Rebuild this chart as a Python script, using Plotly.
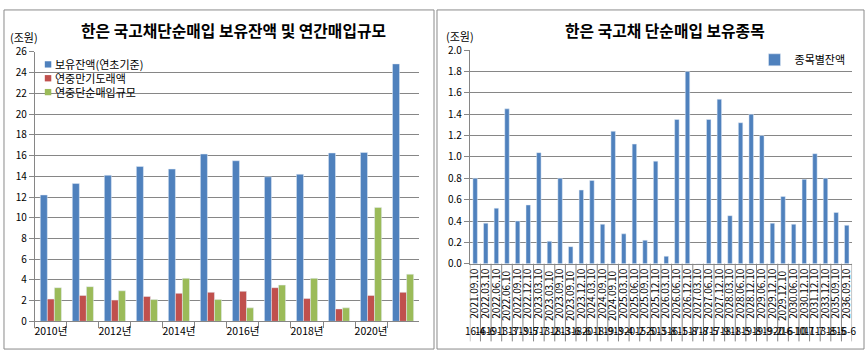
import plotly.graph_objects as go

# ---------------- data ----------------
years = ["2010년", "2011년", "2012년", "2013년", "2014년", "2015년",
         "2016년", "2017년", "2018년", "2019년", "2020년", "2021년"]
holdings = [12.2, 13.3, 14.1, 14.95, 14.7, 16.15, 15.5, 13.95, 14.2, 16.25, 16.3, 24.85]
maturing = [2.15, 2.5, 2.05, 2.4, 2.7, 2.8, 2.9, 3.25, 2.2, 1.2, 2.5, 2.8]
purchases = [3.25, 3.35, 2.95, 2.1, 4.15, 2.1, 1.3, 3.5, 4.15, 1.3, 11.0, 4.55]
year_ticktext = [y if i % 2 == 0 else "" for i, y in enumerate(years)]
left_series_names = ["보유잔액(연초기준)", "연중만기도래액", "연중단순매입규모"]

maturity_dates = ["2021.09.10", "2022.03.10", "2022.06.10", "2022.06.10 ", "2022.09.10",
                  "2022.12.10", "2023.03.10", "2023.03.10 ", "2023.09.10", "2023.09.10 ",
                  "2023.12.10", "2024.03.10", "2024.09.10", "2024.09.10 ", "2025.03.10",
                  "2025.06.10", "2025.09.10", "2025.12.10", "2026.03.10", "2026.06.10",
                  "2026.12.10", "2027.03.10", "2027.06.10", "2027.12.10", "2028.03.10",
                  "2028.06.10", "2028.12.10", "2029.06.10", "2029.12.10", "2029.12.10 ",
                  "2030.06.10", "2030.12.10", "2031.12.10", "2033.12.10", "2035.09.10",
                  "2036.09.10"]
issue_codes = ["16-4", "16-6", "19-1", "13-3", "17-3", "19-5", "17-7", "13-2", "18-3", "13-6",
               "18-6", "20-1", "18-9", "19-3", "19-4", "20-2", "15-5", "20-3", "15-8", "16-1",
               "15-8", "17-8", "17-5", "17-9", "18-1", "18-5", "19-8", "19-9", "19-2", "20-6",
               "16-10", "10-7", "11-7", "13-8", "15-5", "16-6"]
issue_balance = [0.80, 0.38, 0.52, 1.45, 0.40, 0.55, 1.04, 0.21, 0.80, 0.16,
                 0.69, 0.78, 0.37, 1.24, 0.28, 1.12, 0.22, 0.96, 0.07, 1.35,
                 1.80, 0.0, 1.35, 1.54, 0.45, 1.32, 1.40, 1.20, 0.38, 0.63,
                 0.37, 0.79, 1.03, 0.80, 0.48, 0.36]

# ---------------- style ----------------
W, H = 866, 357
FONT = "Noto Sans CJK KR"
GRID = "#868686"
BLUE, RED, GREEN = "#4F81BD", "#C0504D", "#9BBB59"
LEFT_COLORS = [BLUE, RED, GREEN]


def px(x):
    return x / W


def py(y):
    return 1 - y / H


fig = go.Figure()
for name, vals, col in zip(left_series_names, [holdings, maturing, purchases], LEFT_COLORS):
    fig.add_trace(go.Bar(x=years, y=vals, name=name, marker_color=col,
                         xaxis="x", yaxis="y", showlegend=False))
fig.add_trace(go.Bar(x=maturity_dates, y=issue_balance, name="종목별잔액", marker_color=BLUE,
                     width=0.42, xaxis="x2", yaxis="y2", legend="legend2"))

axis_common = dict(showline=True, linecolor=GRID, linewidth=1, tickcolor=GRID,
                   tickfont=dict(family=FONT, size=10, color="#000"))

annotations = [
    dict(text="<b>한은 국고채단순매입 보유잔액 및 연간매입규모</b>", x=px(232), y=py(23),
         font=dict(size=15.8)),
    dict(text="(조원)", x=px(21), y=py(29), font=dict(size=11)),
    dict(text="<b>한은 국고채 단순매입 보유종목</b>", x=px(665), y=py(23), font=dict(size=15.8)),
    dict(text="(조원)", x=px(459), y=py(28), font=dict(size=11)),
]
for a in annotations:
    a.update(xref="paper", yref="paper", showarrow=False, xanchor="center", yanchor="middle")
    a["font"].update(family=FONT, color="#000")

shapes = [
    dict(type="rect", xref="paper", yref="paper", x0=px(1), x1=px(433), y0=py(356), y1=py(1),
         line=dict(color="#8a8a8a", width=1)),
    dict(type="rect", xref="paper", yref="paper", x0=px(436), x1=px(865), y0=py(356), y1=py(1),
         line=dict(color="#8a8a8a", width=1)),
]

# legend of the left chart (compact, Excel-style)
legend_rows = [58, 72.5, 87]
for name, col, yy in zip(left_series_names, LEFT_COLORS, legend_rows):
    shapes.append(dict(type="rect", xref="paper", yref="paper",
                       x0=px(42), x1=px(48.5), y0=py(yy + 3.3), y1=py(yy - 3.3),
                       fillcolor=col, line=dict(width=0)))
    annotations.append(dict(text=name, x=px(50), y=py(yy), xref="paper", yref="paper",
                            xanchor="left", yanchor="middle", showarrow=False,
                            font=dict(family=FONT, size=11, color="#000")))

# second level of the date axis: issue codes + category dividers
for d, c in zip(maturity_dates, issue_codes):
    annotations.append(dict(text=c, x=d, xref="x2", y=py(337), yref="paper", showarrow=False,
                            xanchor="center", yanchor="middle",
                            font=dict(family=FONT, size=10, color="#000")))
for i in range(len(maturity_dates) + 1):
    shapes.append(dict(type="line", xref="x2", yref="paper", x0=i - 0.5, x1=i - 0.5,
                       y0=py(348), y1=py(266.7), line=dict(color=GRID, width=1)))

fig.update_layout(
    width=W, height=H,
    margin=dict(l=0, r=0, t=0, b=0),
    paper_bgcolor="white", plot_bgcolor="white",
    font=dict(family=FONT, size=11, color="#000"),
    barmode="group", bargap=0.34, bargroupgap=0,
    xaxis=dict(domain=[px(32), px(418)], anchor="y", type="category",
               tickmode="array", tickvals=years, ticktext=year_ticktext,
               ticks="outside", tickson="boundaries", ticklen=6, tickangle=0,
               showgrid=False, range=[-0.5, len(years) - 0.5],
               showline=True, linecolor=GRID, linewidth=1, tickcolor=GRID,
               tickfont=dict(family=FONT, size=10.5, color="#000")),
    yaxis=dict(domain=[py(327), py(45)], anchor="x", range=[0, 26], dtick=2,
               ticks="outside", ticklen=5, showgrid=True, gridcolor=GRID, gridwidth=1,
               zeroline=False, **axis_common),
    xaxis2=dict(domain=[px(469), px(853)], anchor="y2", type="category",
                tickmode="linear", tick0=0, dtick=1, ticks="", tickangle=-90,
                showgrid=False, range=[-0.5, len(maturity_dates) - 0.5],
                showline=True, linecolor=GRID, linewidth=1,
                tickfont=dict(family=FONT, size=10, color="#000")),
    yaxis2=dict(domain=[py(266.7), py(43)], anchor="x2", range=[0, 2], dtick=0.2,
                tickformat=".1f", ticks="outside", ticklen=5, showgrid=True,
                gridcolor=GRID, gridwidth=1, zeroline=False, **axis_common),
    legend2=dict(x=px(755), y=py(38), xanchor="left", yanchor="top",
                 bgcolor="rgba(0,0,0,0)", font=dict(family=FONT, size=11, color="#000")),
    annotations=annotations,
    shapes=shapes,
)

fig.write_html("out.html", config={"displayModeBar": False},
               post_script="document.body.style.margin='0';"
                           "document.body.style.overflow='hidden';")
